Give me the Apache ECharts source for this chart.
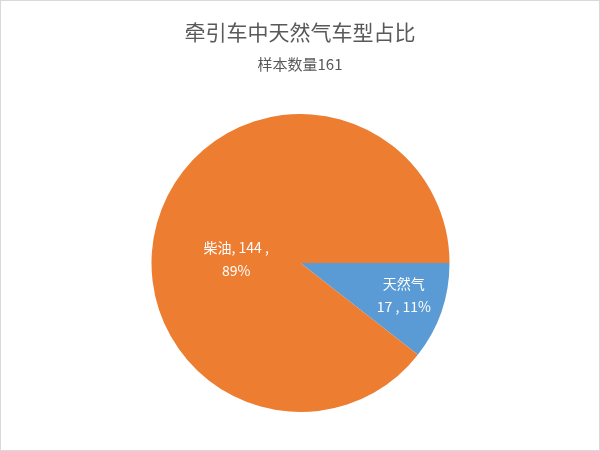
<!DOCTYPE html>
<html>
<head>
<meta charset="utf-8">
<script src="https://cdn.jsdelivr.net/npm/echarts@6/dist/echarts.min.js"></script>
<style>
html,body{margin:0;padding:0;background:#fff;}
#wrap{width:600px;height:451px;box-sizing:border-box;border:1px solid #d9d9d9;}
#chart{width:598px;height:449px;}
</style>
</head>
<body>
<div id="wrap"><div id="chart"></div></div>
<script>
const titleText = '牵引车中天然气车型占比';
const subtitleText = '样本数量161';
const categories = ['天然气', '柴油'];
const values = [17, 144];
const colors = ['#5B9BD5', '#ED7D31'];
const labelFormats = ['{b}\n{c} , {d}%', '{b}, {c} ,\n{d}%'];
const labelOffsets = [[30, 7], [9, 21]];

const chart = echarts.init(document.getElementById('chart'));
const font = '"Noto Sans CJK SC", "Microsoft YaHei", sans-serif';
chart.setOption({
  animation: false,
  title: [
    {text: titleText, left: 'center', top: 16,
     textStyle: {fontFamily: font, fontSize: 21, fontWeight: 'normal', color: '#595959'}},
    {text: subtitleText, left: 'center', top: 51,
     textStyle: {fontFamily: font, fontSize: 15, fontWeight: 'normal', color: '#595959'}}
  ],
  series: [{
    type: 'pie',
    center: [299.5, 262],
    radius: 149,
    startAngle: 0,
    clockwise: true,
    percentPrecision: 0,
    labelLine: {show: false},
    itemStyle: {borderWidth: 0},
    emphasis: {disabled: true},
    data: categories.map((c, i) => ({
      name: c,
      value: values[i],
      itemStyle: {color: colors[i]},
      label: {
        show: true,
        position: 'inside',
        formatter: labelFormats[i],
        offset: labelOffsets[i],
        color: '#ffffff',
        fontFamily: font,
        fontSize: 14,
        lineHeight: 23,
        align: 'center'
      }
    }))
  }]
});
</script>
</body>
</html>
